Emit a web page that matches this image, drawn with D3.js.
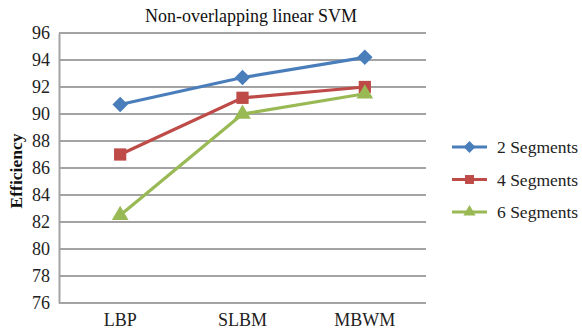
<!DOCTYPE html>
<html>
<head>
<meta charset="utf-8">
<script src="https://cdn.jsdelivr.net/npm/d3@7"></script>
<style>
  html, body { margin: 0; padding: 0; background: #fff; }
  svg { display: block; }
  svg text { font-family: "Liberation Serif", "Times New Roman", serif !important; }
</style>
</head>
<body>
<svg id="chart" width="582" height="333"></svg>
<script>
// Efficiency of the non-overlapping linear SVM per descriptor
const categories = ["LBP", "SLBM", "MBWM"];
const seg2 = [90.7, 92.7, 94.2];
const seg4 = [87.0, 91.2, 92.0];
const seg6 = [82.5, 90.0, 91.5];
const seriesNames = ["2 Segments", "4 Segments", "6 Segments"];
const yTicks = [76, 78, 80, 82, 84, 86, 88, 90, 92, 94, 96];

// Diamond drawn as a square turned 45 degrees
const diamond = {
  draw(ctx, size) {
    const r = Math.sqrt(size / 2);
    ctx.moveTo(0, -r); ctx.lineTo(r, 0); ctx.lineTo(0, r); ctx.lineTo(-r, 0); ctx.closePath();
  }
};

const series = [
  { name: seriesNames[0], values: seg2, color: "#4a7ebb", shape: diamond, size: 120, lsize: 70 },
  { name: seriesNames[1], values: seg4, color: "#be4b48", shape: d3.symbolSquare, size: 150, lsize: 80 },
  { name: seriesNames[2], values: seg6, color: "#98b954", shape: d3.symbolTriangle, size: 120, lsize: 65 }
];

const svg = d3.select("#chart");
const plot = { left: 59, right: 426, top: 33, bottom: 303 };

const x = d3.scaleBand().domain(categories).range([plot.left, plot.right]);
const y = d3.scaleLinear().domain([76, 96]).range([plot.bottom, plot.top]);

// Title
svg.append("text")
  .attr("x", 251).attr("y", 22)
  .attr("text-anchor", "middle")
  .attr("font-size", 18)
  .attr("fill", "#111")
  .text("Non-overlapping linear SVM");

// Horizontal gridlines
svg.append("g")
  .selectAll("line")
  .data(yTicks)
  .join("line")
  .attr("x1", plot.left).attr("x2", plot.right)
  .attr("y1", d => y(d)).attr("y2", d => y(d))
  .attr("stroke", "#a3a3a3").attr("stroke-width", 2);

// Y axis
const yAxis = svg.append("g")
  .attr("transform", `translate(${plot.left},0)`)
  .call(d3.axisLeft(y).tickValues(yTicks).tickSize(0).tickPadding(9));
yAxis.select(".domain").attr("stroke", "#a3a3a3").attr("stroke-width", 2);
yAxis.selectAll("text").attr("font-size", 18).attr("fill", "#222");

// X axis labels
const xAxis = svg.append("g")
  .attr("transform", `translate(0,${plot.bottom})`)
  .call(d3.axisBottom(x).tickSize(0).tickPadding(10));
xAxis.select(".domain").remove();
xAxis.selectAll("text").attr("font-size", 18).attr("fill", "#222");

// Y axis title
svg.append("text")
  .attr("transform", `translate(22,${(plot.top + plot.bottom) / 2 + 3}) rotate(-90)`)
  .attr("text-anchor", "middle")
  .attr("font-size", 17.5)
  .attr("font-weight", "bold")
  .attr("fill", "#111")
  .text("Efficiency");

// Series lines and markers
const line = d3.line()
  .x((d, i) => x(categories[i]) + x.bandwidth() / 2)
  .y(d => y(d));

series.forEach(s => {
  svg.append("path")
    .datum(s.values)
    .attr("d", line)
    .attr("fill", "none")
    .attr("stroke", s.color)
    .attr("stroke-width", 3.2);
  svg.append("g")
    .selectAll("path")
    .data(s.values)
    .join("path")
    .attr("transform", (d, i) => `translate(${x(categories[i]) + x.bandwidth() / 2},${y(d)})`)
    .attr("d", d3.symbol().type(s.shape).size(s.size))
    .attr("fill", s.color);
});

// Legend
const legend = svg.append("g")
  .selectAll("g")
  .data(series)
  .join("g")
  .attr("transform", (d, i) => `translate(452,${147 + i * 32.5})`);
legend.append("line")
  .attr("x1", 0).attr("x2", 35)
  .attr("stroke", d => d.color).attr("stroke-width", 3.2);
legend.append("path")
  .attr("transform", "translate(17.5,0)")
  .attr("d", d => d3.symbol().type(d.shape).size(d.lsize)())
  .attr("fill", d => d.color);
legend.append("text")
  .attr("x", 45).attr("y", 6)
  .attr("font-size", 17.5)
  .attr("fill", "#222")
  .text(d => d.name);
</script>
</body>
</html>
